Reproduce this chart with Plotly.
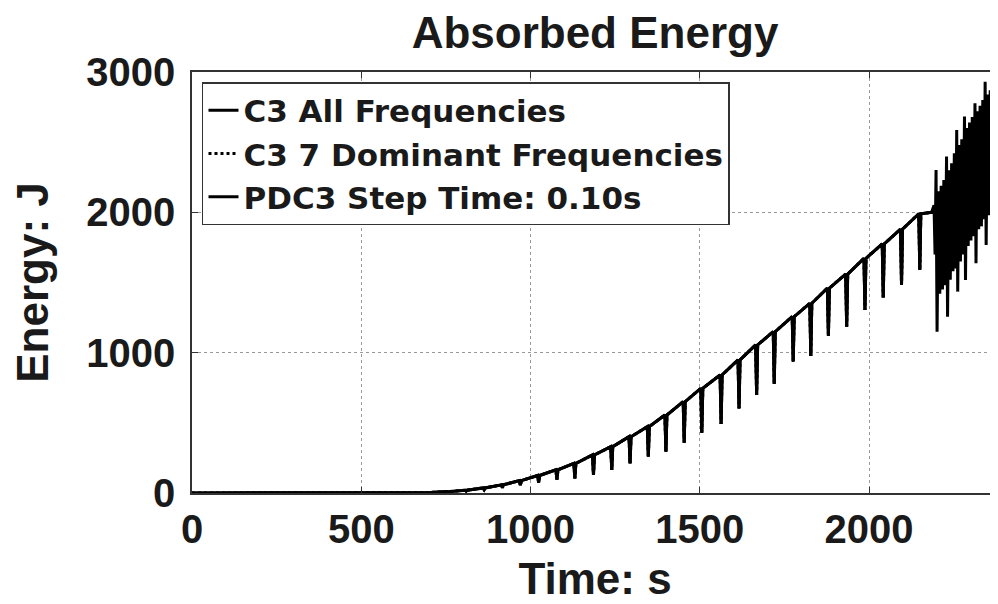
import plotly.graph_objects as go

# ---- data ----
# slow start of the energy curve (time s, energy J)
start_time = [0, 300, 600, 650]
start_energy = [0, 0, 0, 1]

# periodic dips of the absorbed energy: time of the dip, level just before it, bottom of the dip
dip_time = [702, 756, 810, 863, 917, 970, 1024, 1078, 1131, 1186, 1240, 1294, 1348, 1400,
            1454, 1506, 1563, 1616, 1668, 1720, 1776, 1828, 1880, 1934, 1988, 2042, 2096, 2150]
top_energy = [4, 10, 20, 36, 58, 88, 125, 165, 211, 271, 330, 401, 473, 556,
              651, 746, 841, 948, 1055, 1150, 1257, 1352, 1460, 1560, 1672, 1775, 1880, 1990]
dip_energy = [2, 6, 13, 24, 38, 55, 75, 95, 104, 128, 164, 211, 259, 295,
              359, 430, 492, 603, 698, 777, 936, 976, 1119, 1185, 1304, 1394, 1482, 1589]

end_time = [2185]
end_energy = [2000]

# fast oscillation at the end of the PDC3 run
dense_time = [2192, 2195, 2198, 2201, 2205, 2209, 2213, 2217, 2221, 2225, 2229, 2232, 2236, 2240,
              2244, 2248, 2252, 2256, 2259, 2262, 2266, 2270, 2274, 2278, 2282, 2285, 2289, 2293,
              2297, 2301, 2305, 2309, 2313, 2316, 2320, 2324, 2328, 2332, 2336, 2340, 2343, 2346,
              2350, 2354, 2358, 2362, 2366, 2370, 2373, 2377, 2381]
dense_energy = [2050, 1700, 2302, 1149, 2150, 1420, 2190, 1450, 2230, 1480, 2397, 1256, 2300, 1520,
                2350, 1580, 2420, 1600, 2587, 1435, 2480, 1650, 2520, 1700, 2682, 1518, 2600, 1760,
                2640, 1800, 2680, 1830, 2777, 1637, 2720, 1880, 2760, 1900, 2800, 1950, 2931, 1767,
                2840, 1980, 2870, 2000, 2900, 2980, 1945, 2880, 2050]

series_names = ["C3 All Frequencies", "C3 7 Dominant Frequencies", "PDC3 Step Time: 0.10s"]
x_ticks = [0, 500, 1000, 1500, 2000]
y_ticks = [0, 1000, 2000, 3000]

# ---- build the line paths from the read values ----
t_reg = list(start_time)
e_reg = list(start_energy)
for t, top, dip in zip(dip_time, top_energy, dip_energy):
    t_reg += [t - 3, t, t + 3]
    e_reg += [top, dip, top]
t_reg += end_time
e_reg += end_energy

t_pd = t_reg + dense_time
e_pd = e_reg + dense_energy

FONT = "Liberation Sans, Arial, Helvetica, sans-serif"
LEG_FONT = "DejaVu Sans, Liberation Sans, Arial, sans-serif"
TXT = "#1a1a1a"

fig = go.Figure()
fig.add_trace(go.Scatter(x=t_reg, y=e_reg, mode="lines", name=series_names[0],
                         line=dict(color="black", width=3)))
fig.add_trace(go.Scatter(x=t_reg, y=e_reg, mode="lines", name=series_names[1],
                         line=dict(color="black", width=3, dash="dot")))
fig.add_trace(go.Scatter(x=t_pd, y=e_pd, mode="lines", name=series_names[2],
                         line=dict(color="black", width=3)))

# the page body adds an 8px offset, so the figure is 990x596
fig.update_layout(
    width=990, height=596,
    margin=dict(l=184, r=0, t=64, b=111, autoexpand=False),
    paper_bgcolor="white", plot_bgcolor="white",
    font=dict(family=FONT, color=TXT, size=40, weight="bold"),
    title=dict(text="Absorbed Energy", x=0.5, xref="paper", xanchor="center",
               y=0.958, yref="container", yanchor="middle",
               font=dict(size=44, family=FONT, weight="bold", color=TXT)),
    showlegend=True,
    legend=dict(x=0.0124, y=0.976, xanchor="left", yanchor="top",
                bgcolor="white", bordercolor="#333", borderwidth=1.5,
                font=dict(size=31, family=LEG_FONT, weight="bold", color=TXT),
                tracegroupgap=0),
)

fig.update_xaxes(
    range=[0, 2381], tickvals=x_ticks, ticktext=[str(v) for v in x_ticks],
    showline=True, linecolor="#333", linewidth=1.5, mirror="ticks",
    ticks="inside", ticklen=6, tickcolor="#333",
    showgrid=True, gridcolor="#999", griddash="dot", gridwidth=1,
    zeroline=False, ticklabelstandoff=0, automargin=False,
    tickfont=dict(size=40, family=FONT, weight="bold", color=TXT),
    title=dict(text="Time: s", font=dict(size=44, family=FONT, weight="bold", color=TXT), standoff=13),
)
fig.update_yaxes(
    range=[0, 3000], tickvals=y_ticks, ticktext=[str(v) for v in y_ticks],
    showline=True, linecolor="#333", linewidth=1.5, mirror=False,
    ticks="inside", ticklen=6, tickcolor="#333",
    showgrid=True, gridcolor="#999", griddash="dot", gridwidth=1,
    zeroline=False, ticklabelstandoff=7, automargin=False,
    tickfont=dict(size=40, family=FONT, weight="bold", color=TXT),
    title=dict(text="Energy: J", font=dict(size=44, family=FONT, weight="bold", color=TXT), standoff=31),
)

fig.write_html("out.html")
